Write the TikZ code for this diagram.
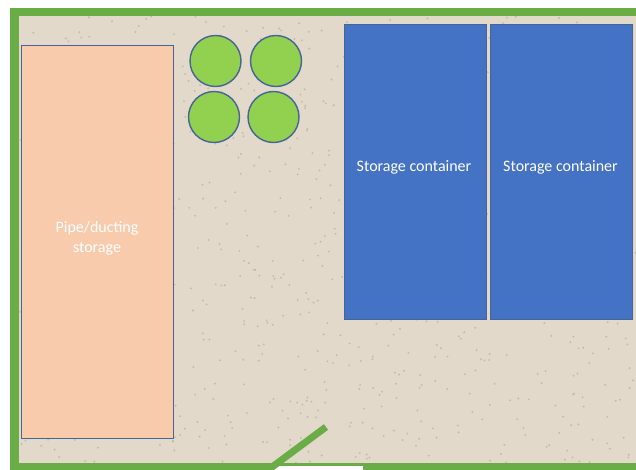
\documentclass[tikz,border=0pt]{standalone}
\usepackage{fontspec}
\setmainfont{Carlito}
\definecolor{sandbg}{RGB}{226,217,203}
\definecolor{speck}{RGB}{160,150,134}
\definecolor{wallgreen}{RGB}{106,172,70}
\definecolor{shrubgreen}{RGB}{146,208,80}
\definecolor{pipefill}{RGB}{247,203,172}
\definecolor{boxblue}{RGB}{68,114,196}
\definecolor{edgeblue}{RGB}{70,100,150}
\tikzset{
    container/.style={rectangle,draw=edgeblue,fill=boxblue,minimum width=2.84cm,minimum height=5.9cm},
    pipestore/.style={rectangle,draw=edgeblue,semithick,fill=pipefill,minimum width=3.03cm,minimum height=7.88cm},
    shrub/.style={circle,draw=edgeblue,thick,fill=shrubgreen,minimum size=1.02cm,inner sep=0pt},
    boxtext/.style={text=white,align=center,inner sep=0pt,font=\fontsize{9.1}{11.4}\selectfont}
}
\begin{document}
\begin{tikzpicture}[x=0.02cm,y=-0.02cm]

    \useasboundingbox (0,0) rectangle (636,470);

    % ground
    \fill[sandbg] (15,12) rectangle (636,466);
    \pgfmathsetseed{4217}
    \foreach \i in {1,...,900} {
        \pgfmathsetmacro{\px}{20+rnd*616}
        \pgfmathsetmacro{\py}{16+rnd*447}
        \fill[speck,opacity=0.45] (\px,\py) circle (0.6pt);
    }

    % walls
    \fill[wallgreen] (10,8) rectangle (636,16);
    \fill[wallgreen] (10,8) rectangle (19,470);
    \fill[wallgreen] (10,463) rectangle (636,470);
    \fill[white] (273,466) rectangle (363,470);

    \node[pipestore] (pipes) at (97.5,242) {};
    \node[boxtext] (pipeslabel) at (97,238.5) {Pipe/ducting\\storage};
    \node[container] (store1) at (415,171.5) {};
    \node[boxtext] (store1label) at (414,167.5) {Storage container};
    \node[container] (store2) at (561.5,171.5) {};
    \node[boxtext] (store2label) at (560.5,167.5) {Storage container};

    \node[shrub] (shrub1) at (215.5,61) {};
    \node[shrub] (shrub2) at (276,61) {};
    \node[shrub] (shrub3) at (214,117) {};
    \node[shrub] (shrub4) at (273.5,117) {};

    % door
    \coordinate (hinge) at (268,470);
    \coordinate (doorend) at (326,427);
    \draw[wallgreen,line width=0.14cm] (hinge) -- (doorend);

\end{tikzpicture}
\end{document}
